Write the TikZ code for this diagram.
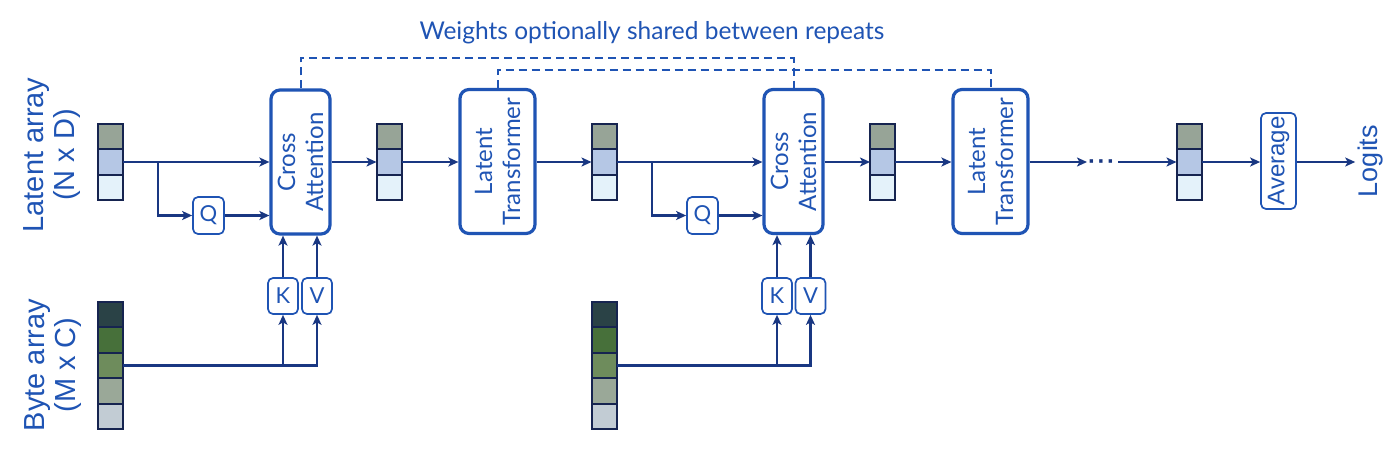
\documentclass[tikz,border=0pt]{standalone}
\usepackage{fontspec}
\setmainfont{Liberation Sans}
\newfontfamily\geo{Lato}
\usetikzlibrary{arrows.meta}
\definecolor{tblue}{RGB}{31,84,180}
\definecolor{navy}{RGB}{25,55,130}
\definecolor{cellline}{RGB}{22,36,80}
\definecolor{la}{RGB}{151,164,151}
\definecolor{lb}{RGB}{181,199,229}
\definecolor{lc}{RGB}{228,242,250}
\definecolor{ba}{RGB}{42,66,70}
\definecolor{bb}{RGB}{71,112,58}
\definecolor{bc}{RGB}{110,140,92}
\definecolor{bd}{RGB}{154,168,152}
\definecolor{be}{RGB}{194,204,212}
\tikzset{
 cell/.style={draw=cellline, line width=2pt, minimum width=25pt, minimum height=25.4pt, inner sep=0pt, outer sep=0pt},
 bigbox/.style={draw=tblue, line width=3.2pt, rounded corners=9pt, minimum height=144pt, inner sep=0pt},
 smallbox/.style={draw=tblue, line width=1.7pt, rounded corners=5pt, minimum width=30pt, minimum height=36pt, inner sep=0pt, text=tblue, font=\geo\fontsize{22}{24}\selectfont},
 boxtext/.style={rotate=90, text=tblue, align=center, font=\geo\fontsize{24}{28}\selectfont},
 conn/.style={draw=navy, line width=2.1pt, -{Stealth[length=10pt,width=9pt,inset=2.5pt]}},
 share/.style={draw=tblue, line width=2pt, dash pattern=on 8pt off 5pt},
 sidelabel/.style={rotate=90, text=tblue, align=center, font=\fontsize{29}{31}\selectfont},
}
\newcommand\latentblock[2]{%
 \node[cell, fill=la] (#1a) at (#2,136.6) {};
 \node[cell, fill=lb] (#1b) at (#2,162) {};
 \node[cell, fill=lc] (#1c) at (#2,187.4) {};
}
\newcommand\byteblock[2]{%
 \node[cell, fill=ba] (#1a) at (#2,314.7) {};
 \node[cell, fill=bb] (#1b) at (#2,340.1) {};
 \node[cell, fill=bc] (#1c) at (#2,365.5) {};
 \node[cell, fill=bd] (#1d) at (#2,390.9) {};
 \node[cell, fill=be] (#1e) at (#2,416.3) {};
}
\begin{document}
\begin{tikzpicture}[x=1pt,y=-1pt]
\useasboundingbox (0,0) rectangle (1400,467);
\fill[white] (0,0) rectangle (1400,467);

% side labels
\node[sidelabel] (latlab) at (52,155) {Latent array\\(N x D)};
\node[sidelabel] (bytelab) at (53,365) {Byte array\\(M x C)};

% title
\node[text=tblue, font=\geo\fontsize{24.5}{28}\selectfont] (title) at (652,33) {Weights optionally shared between repeats};

% arrays
\latentblock{l1}{110.5}
\latentblock{l2}{389}
\latentblock{l3}{604}
\latentblock{l4}{882.5}
\latentblock{l5}{1189}
\byteblock{m1}{110.5}
\byteblock{m2}{604}

% big boxes
\node[bigbox, minimum width=59pt] (ca1) at (300.5,162) {};
\node[boxtext] (ca1t) at (ca1) {Cross\\Attention};
\node[bigbox, minimum width=75pt] (lt1) at (497.5,161.5) {};
\node[boxtext] (lt1t) at (lt1) {Latent\\Transformer};
\node[bigbox, minimum width=59pt] (ca2) at (793.5,161.5) {};
\node[boxtext] (ca2t) at (ca2) {Cross\\Attention};
\node[bigbox, minimum width=75pt] (lt2) at (990.5,161.5) {};
\node[boxtext] (lt2t) at (lt2) {Latent\\Transformer};

% small boxes
\node[smallbox, minimum width=31pt, minimum height=37pt] (q1) at (208.5,215.5) {Q};
\node[smallbox, minimum width=31pt, minimum height=37pt] (q2) at (702.5,215.5) {Q};
\node[smallbox] (k1) at (283,296) {K};
\node[smallbox] (v1) at (317,296) {V};
\node[smallbox] (k2) at (777,296) {K};
\node[smallbox] (v2) at (810.5,296) {V};
\node[smallbox, minimum width=35pt, minimum height=96pt] (avg) at (1278.5,161) {};
\node[rotate=90, text=tblue, font=\fontsize{24}{26}\selectfont] (avgt) at (avg) {Average};
\node[rotate=90, text=tblue, font=\fontsize{27}{30}\selectfont, inner sep=3pt] (logits) at (1371,161) {Logits};

% dots
\node[anchor=base, text=navy, font=\fontsize{24}{26}\selectfont\bfseries, inner sep=1pt] (dots) at (1101.5,169) {\textperiodcentered\hspace{1.5pt}\textperiodcentered\hspace{1.5pt}\textperiodcentered};
\coordinate (dl) at (1087,162);
\coordinate (dr) at (1118,162);

% dashed sharing lines
\coordinate (sh1) at (0,58);
\coordinate (sh2) at (0,70);
\draw[share] (ca1.north) -- (ca1.north |- sh1) -| (ca2.north);
\draw[share] (lt1.north) -- (lt1.north |- sh2) -| (lt2.north);

% first repeat
\coordinate (br1) at (158,162);
\draw[conn] (l1b.east) -- (l1b.east -| ca1.west);
\draw[conn] (br1) |- (q1.west);
\draw[conn] (q1.east) -- (q1.east -| ca1.west);
\draw[conn] (m1c.east) -| (v1.south);
\draw[conn] (m1c.east -| k1.south) -- (k1.south);
\draw[conn] (k1.north) -- (k1.north |- ca1.south);
\draw[conn] (v1.north) -- (v1.north |- ca1.south);
\draw[conn] (ca1.east |- l2b.west) -- (l2b.west);
\draw[conn] (l2b.east) -- (l2b.east -| lt1.west);
\draw[conn] (lt1.east |- l3b.west) -- (l3b.west);

% second repeat
\coordinate (br2) at (652,162);
\draw[conn] (l3b.east) -- (l3b.east -| ca2.west);
\draw[conn] (br2) |- (q2.west);
\draw[conn] (q2.east) -- (q2.east -| ca2.west);
\draw[conn] (m2c.east) -| (v2.south);
\draw[conn] (m2c.east -| k2.south) -- (k2.south);
\draw[conn] (k2.north) -- (k2.north |- ca2.south);
\draw[conn] (v2.north) -- (v2.north |- ca2.south);
\draw[conn] (ca2.east |- l4b.west) -- (l4b.west);
\draw[conn] (l4b.east) -- (l4b.east -| lt2.west);
\draw[conn] (lt2.east |- dl) -- (dl);
\draw[conn] (dr) -- (l5b.west);
\draw[conn] (l5b.east) -- (l5b.east -| avg.west);
\draw[conn] (avg.east |- l5b.east) -- (logits.north |- l5b.east);
\end{tikzpicture}
\end{document}
